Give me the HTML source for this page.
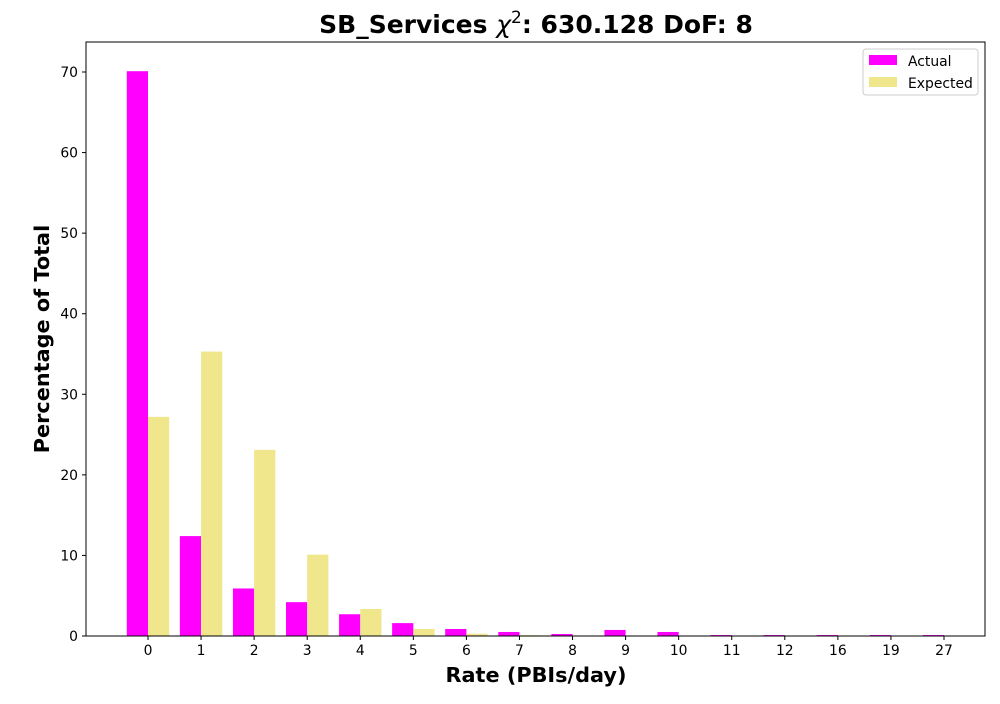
<!DOCTYPE html>
<html><head><meta charset="utf-8"><style>
body{margin:0;background:#fff;font-family:"DejaVu Sans",sans-serif;}
</style></head><body>
<svg id="chart" width="1000" height="700" xmlns="http://www.w3.org/2000/svg" font-family="DejaVu Sans, sans-serif"></svg>
<script>
const categories=["0","1","2","3","4","5","6","7","8","9","10","11","12","16","19","27"];
const actual=[70.1,12.4,5.9,4.2,2.7,1.6,0.87,0.5,0.25,0.75,0.5,0.12,0.12,0.12,0.12,0.12];
const expected=[27.2,35.3,23.1,10.1,3.35,0.87,0.28,0.1,0.03,0.01,0,0,0,0,0,0];
const yTicks=[0,10,20,30,40,50,60,70];
const NS="http://www.w3.org/2000/svg";
const svg=document.getElementById('chart');
const L=86,R=985,T=42,B=636;
const y=v=>B-v*(564/70);
const x=i=>148+i*(796/15);
const bw=21.2;
function el(t,a,txt){const e=document.createElementNS(NS,t);for(const k in a)e.setAttribute(k,a[k]);if(txt!==undefined)e.textContent=txt;svg.appendChild(e);return e;}
categories.forEach((c,i)=>{
 let r=el('rect',{x:x(i)-bw,y:y(actual[i]),width:bw,height:B-y(actual[i]),fill:'#ff00ff'});
 
 
 let r2=el('rect',{x:x(i),y:y(expected[i]),width:bw,height:B-y(expected[i]),fill:'#f0e68c'});
 
 
 let tk=el('line',{x1:x(i),x2:x(i),y1:B,y2:B+4,stroke:'#000'});
 
 
 let tl=el('text',{x:x(i),y:B+19,'text-anchor':'middle','font-size':13.9},c);
 
 
});
yTicks.forEach(v=>{
 let tk=el('line',{x1:L-4,x2:L,y1:y(v),y2:y(v),stroke:'#000'});
 
 
 let tl=el('text',{x:L-8,y:y(v)+5,'text-anchor':'end','font-size':13.9},String(v));
 
 
});
let fr=el('rect',{x:L,y:T,width:R-L,height:B-T,fill:'none',stroke:'#000','stroke-width':1});


let t=el('text',{x:536,y:33,'text-anchor':'middle','font-size':25,'font-weight':'bold'});


t.innerHTML='SB_Services <tspan font-style="italic" font-weight="normal">χ</tspan><tspan font-size="17" font-weight="normal" dy="-10">2</tspan><tspan dy="10">: 630.128 DoF: 8</tspan>';
let xt=el('text',{x:536,y:682,'text-anchor':'middle','font-size':20.8,'font-weight':'bold'},'Rate (PBIs/day)');


let yt=el('text',{x:49,y:339,'text-anchor':'middle','font-size':20.8,'font-weight':'bold',transform:'rotate(-90 49 339)'},'Percentage of Total');


let lg=el('rect',{x:863,y:49,width:115,height:46,rx:3,fill:'#fff',stroke:'#ccc'});


[['Actual','#ff00ff',61],['Expected','#f0e68c',83]].forEach(([n,c,yy])=>{
 let s=el('rect',{x:869,y:yy-6,width:28,height:10,fill:c});
 
 
 let tx=el('text',{x:908,y:yy+5,'font-size':13.9},n);
 
 
});
</script>
</body></html>
